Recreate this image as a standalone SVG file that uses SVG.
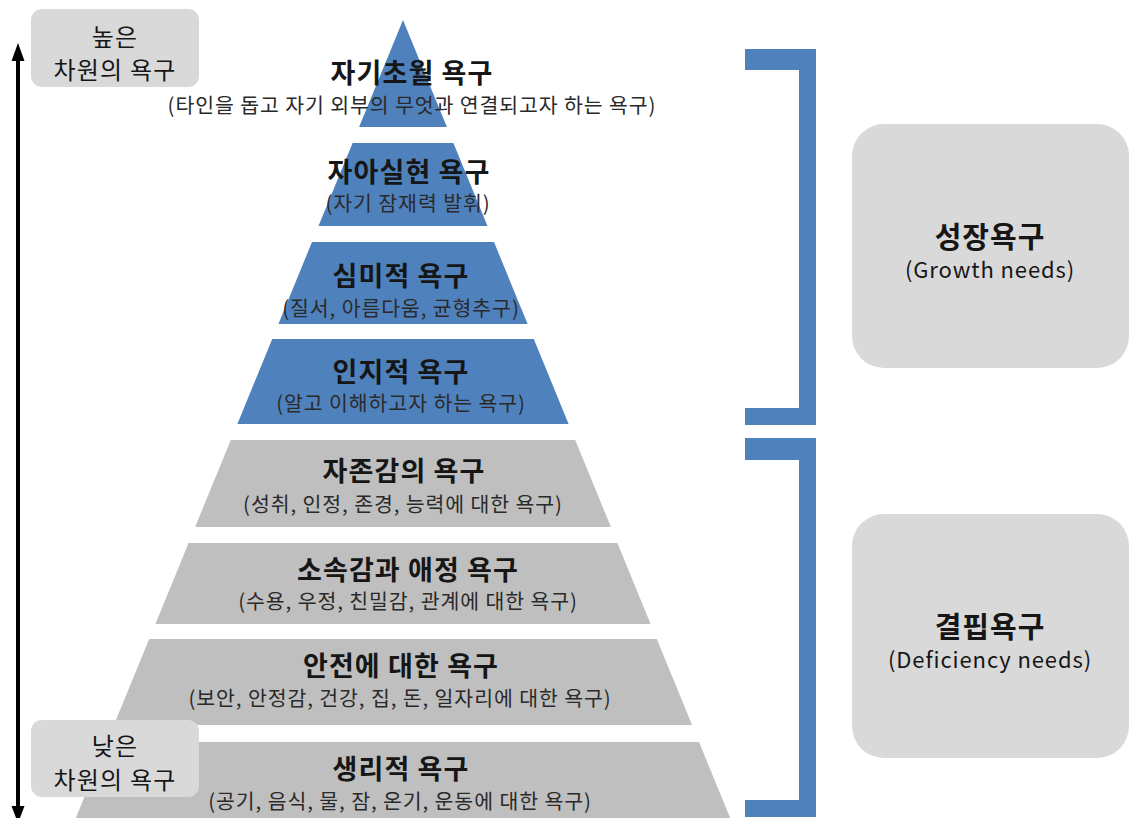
<svg xmlns="http://www.w3.org/2000/svg" width="1130" height="818" viewBox="0 0 1130 818">
<style>
text{font-family:"Noto Sans CJK KR","Noto Sans",sans-serif;text-anchor:middle;fill:#161616}
.t{font-size:27px;font-weight:bold;letter-spacing:1.1px}
.s{font-size:20.5px;letter-spacing:0.9px;fill:#2a2a2a}
.blue{fill:#4F81BD}
.gray{fill:#BFBFBF}
.box{fill:#D9D9D9}
.bt{font-size:29px;font-weight:bold;letter-spacing:1px}
.bs{font-size:22px;letter-spacing:0.9px}
.lb{font-size:24px;letter-spacing:1.2px}
</style>
<rect width="1130" height="818" fill="#ffffff"/>
<g id="pyramid">
<g id="l1"><polygon class="blue" points="403,20 446.9,127 359.1,127"/><text class="t" x="412" y="83">자기초월 욕구</text><text class="s" x="412" y="113">(타인을 돕고 자기 외부의 무엇과 연결되고자 하는 욕구)</text></g>
<g id="l2"><polygon class="blue" points="352.6,143 453.4,143 487.5,226 318.5,226"/><text class="t" x="409" y="182">자아실현 욕구</text><text class="s" x="408" y="211">(자기 잠재력 발휘)</text></g>
<g id="l3"><polygon class="blue" points="312,242 494,242 527.6,324 278.4,324"/><text class="t" x="401" y="286">심미적 욕구</text><text class="s" x="401" y="316">(질서, 아름다움, 균형추구)</text></g>
<g id="l4"><polygon class="blue" points="272.2,339 533.8,339 568.6,424 237.4,424"/><text class="t" x="401" y="382">인지적 욕구</text><text class="s" x="401" y="411">(알고 이해하고자 하는 욕구)</text></g>
<g id="l5"><polygon class="gray" points="230.8,440 575.2,440 610.9,527 195.1,527"/><text class="t" x="404" y="481">자존감의 욕구</text><text class="s" x="403" y="512">(성취, 인정, 존경, 능력에 대한 욕구)</text></g>
<g id="l6"><polygon class="gray" points="188.6,543 617.4,543 650.6,624 155.4,624"/><text class="t" x="408" y="580">소속감과 애정 욕구</text><text class="s" x="408" y="609">(수용, 우정, 친밀감, 관계에 대한 욕구)</text></g>
<g id="l7"><polygon class="gray" points="149.2,639 656.8,639 692.1,725 113.9,725"/><text class="t" x="401" y="676">안전에 대한 욕구</text><text class="s" x="400" y="706">(보안, 안정감, 건강, 집, 돈, 일자리에 대한 욕구)</text></g>
<g id="l8"><polygon class="gray" points="107,742 699,742 735.1,830 70.9,830"/><text class="t" x="401" y="779">생리적 욕구</text><text class="s" x="400" y="809">(공기, 음식, 물, 잠, 온기, 운동에 대한 욕구)</text></g>
</g>
<g id="connectors">
<path class="blue" d="M745,49 H816 V425 H745 V408 H799 V70 H745 Z"/>
<path class="blue" d="M745,438 H816 V817 H745 V800 H799 V460 H745 Z"/>
<line x1="18" y1="58" x2="18" y2="810" stroke="#000" stroke-width="4"/>
<polygon points="18,43 24.5,61 11.5,61" fill="#000"/>
<polygon points="18,823 24.5,806 11.5,806" fill="#000"/>
</g>
<g id="growth"><rect class="box" x="852" y="124" width="277" height="244" rx="32"/><text class="bt" x="990" y="248">성장욕구</text><text class="bs" x="990" y="278">(Growth needs)</text></g>
<g id="deficiency"><rect class="box" x="852" y="514" width="277" height="244" rx="32"/><text class="bt" x="990" y="638">결핍욕구</text><text class="bs" x="990" y="668">(Deficiency needs)</text></g>
<g id="high"><rect class="box" x="31" y="9" width="168" height="78" rx="11"/><text class="lb" x="115" y="46">높은</text><text class="lb" x="115" y="79">차원의 욕구</text></g>
<g id="low"><rect class="box" x="31" y="720" width="168" height="77" rx="11"/><text class="lb" x="115" y="755">낮은</text><text class="lb" x="115" y="789">차원의 욕구</text></g>
</svg>
